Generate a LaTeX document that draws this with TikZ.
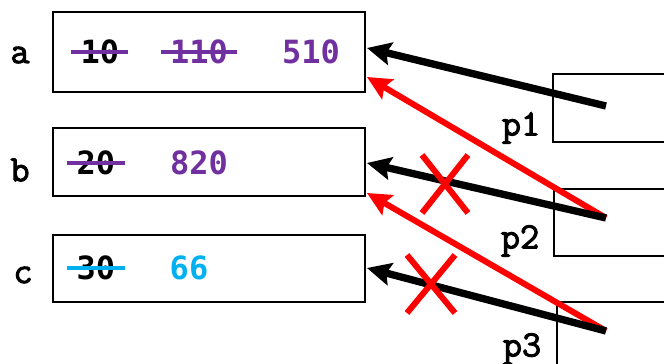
\documentclass[tikz,border=0pt]{standalone}
\usepackage{fontspec}
\newfontfamily\numfont{DejaVu Sans Mono}
\newfontfamily\lblfont[FakeBold=2.5]{Latin Modern Mono}
\usetikzlibrary{arrows.meta}
\definecolor{vpurple}{HTML}{7030A0}
\definecolor{vcyan}{HTML}{00B0F0}
\definecolor{vred}{HTML}{FF0000}
\begin{document}
\begin{tikzpicture}[x=0.75pt,y=-0.75pt,
  varbox/.style={draw=black,line width=1.5pt},
  ptrbox/.style={draw=black,line width=1.2pt},
  vlabel/.style={font=\fontsize{28}{28}\selectfont\lblfont,inner sep=0pt},
  num/.style={font=\fontsize{24}{24}\selectfont\numfont\bfseries,inner sep=0pt},
  strike/.style={line width=2.6pt},
  blackarrow/.style={line width=5.5pt,-{Stealth[length=18pt,width=17pt,inset=3pt]},shorten >=0pt},
  redarrow/.style={line width=4.5pt,vred,-{Stealth[length=18pt,width=17pt,inset=3pt]}},
  crossline/.style={line width=4.5pt,vred}]
\useasboundingbox (0,0) rectangle (664,364);
% variable boxes
\path[varbox] (53,12) rectangle (365,92);
\path[varbox] (53,128) rectangle (365,196);
\path[varbox] (53,235) rectangle (365,302);
\coordinate (ta) at (367,48);
\coordinate (ta2) at (367,77);
\coordinate (tb) at (367,163);
\coordinate (tb2) at (367,193);
\coordinate (tc) at (367,268);
% labels
\node[vlabel] (la) at (20,55) {a};
\node[vlabel] (lb) at (20,170) {b};
\node[vlabel] (lc) at (23,275) {c};
% numbers
\node[num] (a1) at (100,52) {10};
\draw[strike,vpurple] (71,52) -- (128,52);
\node[num,vpurple] (a2) at (199,52) {110};
\draw[strike,vpurple] (161,52) -- (237,52);
\node[num,vpurple] (a3) at (311,52) {510};
\node[num] (b1) at (96,163) {20};
\draw[strike,vpurple] (67,163) -- (125,163);
\node[num,vpurple] (b2) at (199,163) {820};
\node[num] (c1) at (96,268) {30};
\draw[strike,vcyan] (67,268) -- (125,268);
\node[num,vcyan] (c2) at (189,268) {66};
% pointer boxes
\path[ptrbox] (670,74) -- (553,74) -- (553,142) -- (670,142);
\path[ptrbox] (670,189) -- (554,189) -- (554,256) -- (670,256);
\path[ptrbox] (670,302) -- (557,302) -- (557,370);
\node[vlabel] (p1) at (521,128) {p1};
\node[vlabel] (p2) at (520,241) {p2};
\node[vlabel] (p3) at (522,349) {p3};
\coordinate (s1) at (606,106);
\coordinate (s2) at (606,218);
\coordinate (s3) at (606,331);
% arrows
\draw[redarrow] (s2) -- (ta2);
\draw[redarrow] (s3) -- (tb2);
\draw[blackarrow] (s1) -- (ta);
\draw[blackarrow] (s2) -- (tb);
\draw[blackarrow] (s3) -- (tc);
% crosses
\draw[crossline] (422,155) -- (468,213);
\draw[crossline] (468,155) -- (422,213);
\draw[crossline] (407,255) -- (455,313);
\draw[crossline] (455,255) -- (407,313);
\end{tikzpicture}
\end{document}
